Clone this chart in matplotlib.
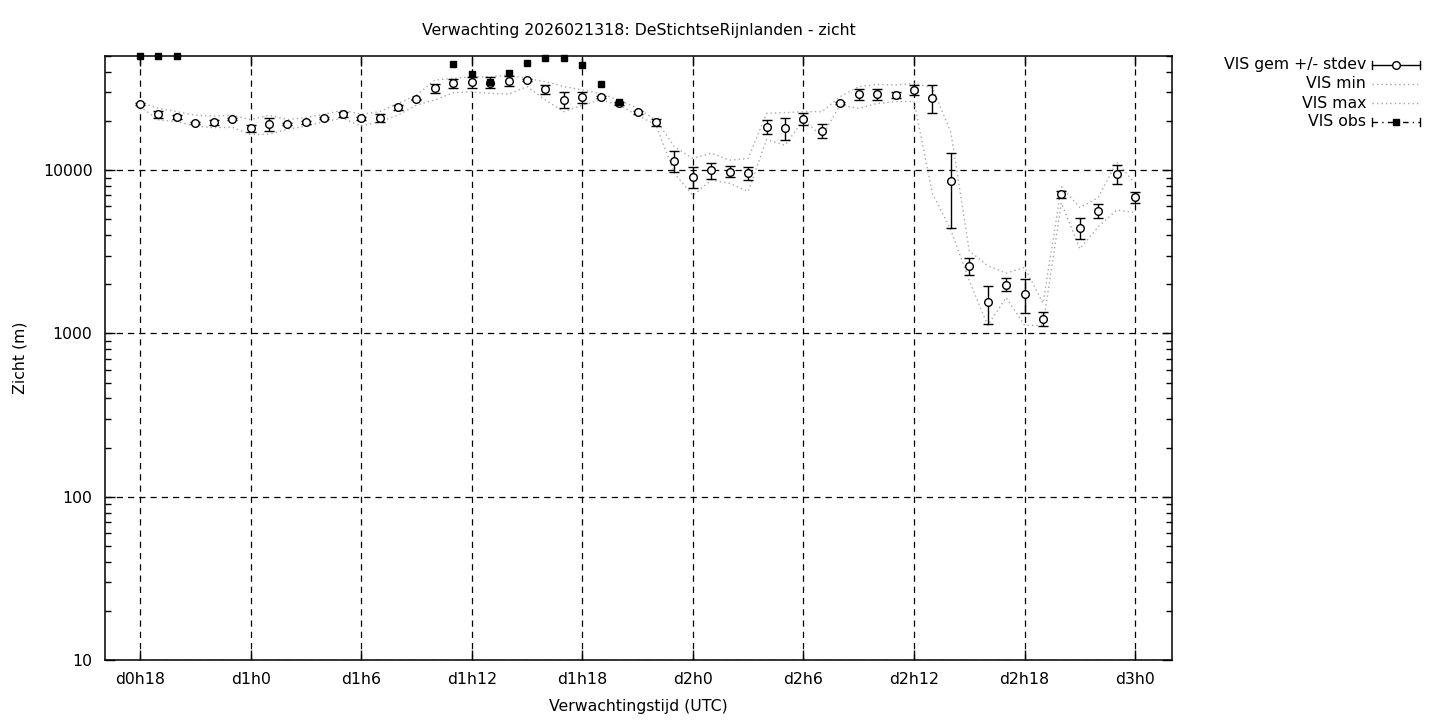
import matplotlib
matplotlib.use("Agg")
import matplotlib.pyplot as plt
import numpy as np

# forecast hours (hours since d0h0)
hours = list(range(18, 73))

vis_mean = [25400, 22000, 21200, 19400, 19600, 20500, 18000, 19100, 19100, 19600,
            20900, 22000, 20800, 20900, 24200, 27100, 31800, 34000, 34500, 34400,
            35200, 35400, 31400, 26900, 27900, 27900, 25700, 22600, 19600, 11400,
            9100, 10000, 9800, 9600, 18400, 18000, 20600, 17400, 25800, 29100,
            29200, 28800, 31000, 27700, 8600, 2580, 1550, 1990, 1740, 1230,
            7100, 4430, 5630, 9460, 6800]

vis_sd = [200, 1000, 700, 300, 700, 300, 900, 1700, 300, 300,
          300, 700, 500, 1150, 900, 300, 2000, 2200, 2750, 2600,
          2650, 500, 2000, 3000, 2150, 400, 500, 400, 900, 1700,
          1340, 1130, 770, 900, 1800, 2800, 1740, 1720, 300, 2300,
          2200, 1300, 2200, 5400, 4200, 310, 400, 180, 400, 120,
          370, 650, 550, 1260, 520]

vis_min = [24500, 20300, 19800, 18600, 18200, 18300, 16500, 16600, 17800, 18600,
           19800, 20800, 18600, 19800, 21700, 25000, 26900, 29800, 30200, 29500,
           29200, 32500, 26900, 22800, 25000, 26900, 25000, 21700, 18900, 9550,
           7000, 8700, 8300, 7400, 15400, 14200, 20300, 16200, 25000, 23900,
           25600, 26300, 26300, 7200, 4300, 2100, 1120, 1660, 1120, 1120,
           6300, 3300, 4500, 5700, 5500]

vis_max = [26000, 23900, 22800, 21700, 21400, 21700, 20400, 21700, 20400, 21000,
           22000, 23300, 22000, 22800, 25600, 28800, 35600, 36500, 37300, 37300,
           38200, 36500, 34800, 32500, 31000, 29500, 26800, 23900, 20300, 13900,
           11800, 12700, 11500, 11800, 22300, 22500, 22800, 22800, 28200, 32500,
           33500, 33200, 34000, 32000, 17000, 3200, 2600, 2340, 2540, 1530,
           7900, 5900, 6800, 11200, 8300]

obs_hours = [18, 19, 20, 35, 36, 37, 38, 39, 40, 41, 42, 43, 44]
vis_obs = [50000, 50000, 50000, 44500, 38800, 34500, 39500, 45500, 48400, 48400,
           44000, 33500, 26000]

xtick_pos = [18, 24, 30, 36, 42, 48, 54, 60, 66, 72]
xtick_labels = ['d0h18', 'd1h0', 'd1h6', 'd1h12', 'd1h18', 'd2h0', 'd2h6',
                'd2h12', 'd2h18', 'd3h0']
ytick_pos = [10, 100, 1000, 10000]
ytick_labels = ['10', '100', '1000', '10000']

key_labels = ['VIS gem +/- stdev', 'VIS min', 'VIS max', 'VIS obs']

plt.rcParams['font.family'] = 'DejaVu Sans'
plt.rcParams['font.size'] = 11.3

fig = plt.figure(figsize=(14.4, 7.2), dpi=100)
ax = fig.add_axes([105 / 1440, 60 / 720, (1172 - 105) / 1440, (664 - 60) / 720])

grey = '#a8a8a8'
ax.plot(hours, vis_min, linestyle=(0, (1, 2.2)), color=grey, lw=1.0, zorder=2)
ax.plot(hours, vis_max, linestyle=(0, (1, 2.2)), color=grey, lw=1.0, zorder=2)
ax.errorbar(hours, vis_mean, yerr=vis_sd, fmt='o', color='black', ms=5.5,
            mfc='white', mec='black', mew=1.0, elinewidth=1.0, capsize=3.4,
            capthick=1.0, zorder=4)
ax.plot(obs_hours, vis_obs, 's', color='black', ms=5, linestyle='none',
        clip_on=False, zorder=5)

ax.set_yscale('log')
ax.set_xlim(16.1, 74.0)
ax.set_ylim(10, 50000)
ax.set_xticks(xtick_pos, xtick_labels)
ax.set_yticks(ytick_pos, ytick_labels)
ax.yaxis.set_minor_locator(matplotlib.ticker.LogLocator(base=10, subs=np.arange(2, 10)))
ax.yaxis.set_minor_formatter(matplotlib.ticker.NullFormatter())
ax.tick_params(axis='both', which='major', direction='in', length=7, width=1,
               right=True, top=True)
ax.tick_params(axis='y', which='minor', direction='in', length=4, width=1, right=True)
ax.tick_params(axis='x', pad=9)
ax.tick_params(axis='y', pad=9)
ax.grid(True, which='major', color='black', linestyle=(0, (5, 4)), lw=0.9)
for s in ax.spines.values():
    s.set_linewidth(1.1)

ax.set_title('Verwachting 2026021318: DeStichtseRijnlanden - zicht', fontsize=11.3, pad=15)
ax.set_xlabel('Verwachtingstijd (UTC)', labelpad=8)
ax.set_ylabel('Zicht (m)', labelpad=11)

# key drawn in figure pixel coordinates
kx = fig.add_axes([0, 0, 1, 1])
kx.set_xlim(0, 1440)
kx.set_ylim(720, 0)
kx.axis('off')
key_y = [65, 84, 103, 122]
x0, x1 = 1372, 1420
for lab, yy in zip(key_labels, key_y):
    kx.text(1366, yy, lab, ha='right', va='center', fontsize=11.3)
# mean +/- stdev
kx.plot([x0, x1], [key_y[0]] * 2, color='black', lw=1)
kx.plot([x0, x0], [key_y[0] - 4, key_y[0] + 4], color='black', lw=1)
kx.plot([x1, x1], [key_y[0] - 4, key_y[0] + 4], color='black', lw=1)
kx.plot([(x0 + x1) / 2], [key_y[0]], 'o', ms=5.5, mfc='white', mec='black', mew=1)
# min / max
kx.plot([x0, x1], [key_y[1]] * 2, linestyle=(0, (1, 2.2)), color=grey, lw=1)
kx.plot([x0, x1], [key_y[2]] * 2, linestyle=(0, (1, 2.2)), color=grey, lw=1)
# obs
kx.plot([x0, x1], [key_y[3]] * 2, linestyle=(0, (4, 3, 1, 3)), color='black', lw=1)
kx.plot([x0, x0], [key_y[3] - 4, key_y[3] + 4], color='black', lw=1)
kx.plot([x1, x1], [key_y[3] - 4, key_y[3] + 4], color='black', lw=1)
kx.plot([(x0 + x1) / 2], [key_y[3]], 's', ms=5, color='black')

fig.savefig('out.png', dpi=100)
